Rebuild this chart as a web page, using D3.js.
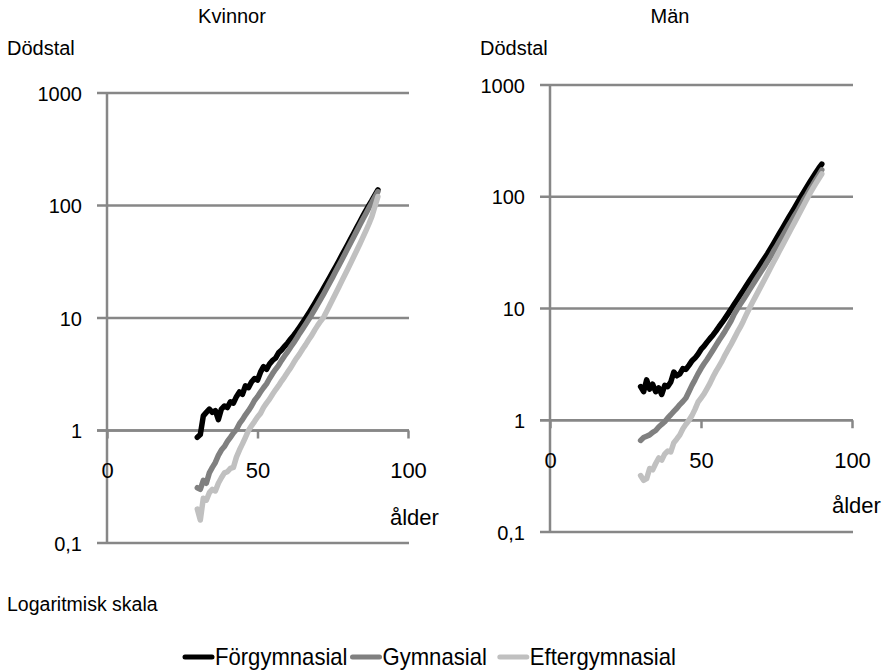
<!DOCTYPE html>
<html>
<head>
<meta charset="utf-8">
<script src="https://cdn.jsdelivr.net/npm/d3@7"></script>
<style>
  body { margin: 0; background: #fff; }
  svg text { font-family: "Liberation Sans", Arial, sans-serif; fill: #000; }
</style>
</head>
<body>
<svg id="chart" width="884" height="672"></svg>
<script>
// ages 30..90, one value per year
var ages = d3.range(30, 91);
var seriesNames = ['Förgymnasial', 'Gymnasial', 'Eftergymnasial'];
var seriesColors = ['#000000', '#808080', '#c0c0c0'];
var yTicks = [0.1, 1, 10, 100, 1000];
var xTicks = [0, 50, 100];

// Kvinnor, dödstal per 1000
var kvinnorFor = [0.87, 0.92, 1.35, 1.45, 1.55, 1.45, 1.5, 1.25, 1.55, 1.65,
  1.6, 1.8, 1.75, 2.0, 2.2, 2.1, 2.5, 2.4, 2.7, 2.9,
  2.8, 3.3, 3.7, 3.5, 3.9, 4.2, 4.4, 4.9, 5.2, 5.6,
  6.0, 6.5, 7.0, 7.6, 8.3, 9.1, 10.0, 11.0, 12.2, 13.5,
  15.0, 16.6, 18.5, 20.6, 23.0, 25.7, 28.7, 32.1, 36.0, 40.3,
  45.2, 50.8, 57.0, 64.0, 71.8, 80.5, 90.0, 100, 111, 124, 138];
var kvinnorGym = [0.31, 0.30, 0.36, 0.34, 0.42, 0.47, 0.52, 0.60, 0.67, 0.72,
  0.80, 0.87, 0.95, 1.02, 1.15, 1.25, 1.38, 1.50, 1.65, 1.85,
  2.0, 2.2, 2.4, 2.6, 2.9, 3.2, 3.5, 3.8, 4.2, 4.6,
  5.0, 5.5, 6.0, 6.6, 7.3, 8.0, 8.8, 9.7, 10.7, 11.9,
  13.2, 14.7, 16.4, 18.4, 20.6, 23.1, 26.0, 29.2, 32.8, 36.9,
  41.6, 46.9, 52.8, 59.5, 67.0, 75.5, 84.5, 95.0, 106, 119, 133];
var kvinnorEft = [0.20, 0.16, 0.25, 0.24, 0.28, 0.30, 0.29, 0.34, 0.38, 0.42,
  0.43, 0.46, 0.47, 0.58, 0.67, 0.76, 0.87, 1.0, 1.1, 1.2,
  1.32, 1.42, 1.6, 1.75, 1.9, 2.1, 2.3, 2.5, 2.75, 3.0,
  3.3, 3.6, 4.0, 4.4, 4.8, 5.3, 5.8, 6.4, 7.0, 7.8,
  8.6, 9.4, 10.2, 11.5, 13.0, 14.7, 16.6, 18.8, 21.3, 24.1,
  27.3, 31.0, 35.2, 40.0, 45.5, 52.0, 59.5, 68.5, 80, 98, 120];

// Män
var manFor = [2.0, 1.8, 2.3, 1.9, 2.1, 1.8, 1.95, 1.7, 2.05, 2.0,
  2.2, 2.7, 2.5, 2.6, 2.9, 2.85, 3.1, 3.4, 3.6, 3.9,
  4.3, 4.6, 5.0, 5.4, 5.8, 6.3, 6.9, 7.5, 8.2, 9.0,
  9.9, 10.9, 12.0, 13.2, 14.5, 16.0, 17.6, 19.3, 21.2, 23.3,
  25.6, 28.1, 30.9, 34.3, 38.1, 42.4, 47.2, 52.5, 58.5, 65.0,
  72, 80, 89, 99, 110, 122, 135, 149, 164, 180, 196];
var manGym = [0.66, 0.70, 0.72, 0.74, 0.78, 0.81, 0.87, 0.92, 0.97, 1.05,
  1.12, 1.20, 1.28, 1.38, 1.47, 1.58, 1.80, 2.05, 2.30, 2.6,
  2.9, 3.2, 3.5, 3.85, 4.25, 4.7, 5.2, 5.7, 6.3, 7.0,
  7.8, 8.9, 9.9, 10.9, 12.0, 13.2, 14.6, 16.1, 17.8, 19.6,
  21.6, 23.8, 26.3, 29.0, 32.5, 36.0, 40.0, 44.5, 49.5, 55.0,
  61, 68, 75, 84, 94, 104, 116, 128, 142, 157, 174];
var manEft = [0.32, 0.29, 0.30, 0.37, 0.36, 0.41, 0.46, 0.44, 0.50, 0.53,
  0.52, 0.63, 0.68, 0.74, 0.84, 0.92, 1.0, 1.1, 1.25, 1.45,
  1.58, 1.72, 1.92, 2.15, 2.45, 2.75, 3.05, 3.4, 3.85, 4.3,
  4.8, 5.4, 6.1, 6.8, 7.7, 8.8, 10.0, 11.3, 12.7, 14.3,
  16.1, 18.1, 20.4, 23.0, 25.9, 29.1, 32.8, 36.9, 41.5, 46.7,
  52.5, 59.0, 66.4, 74.7, 84.0, 94.5, 106, 118, 131, 145, 160];

var svg = d3.select('#chart');
var gridColor = '#878787';

function yFormat(d){
  return d < 1 ? String(d).replace('.', ',') : String(d);
}

// one panel = one small log chart
function drawPanel(title, series, box){
  var x = d3.scaleLinear().domain([0, 100]).range([box.x0, box.x1]);
  var y = d3.scaleLog().domain([0.1, 1000]).range([box.y0, box.y1]);
  var g = svg.append('g');

  g.append('text')
    .attr('x', box.titleX).attr('y', 23)
    .attr('text-anchor', 'middle')
    .style('font-size', '20px')
    .text(title);

  g.append('text')
    .attr('x', box.x0 - box.dodsOffset).attr('y', 55)
    .style('font-size', '20px')
    .text('Dödstal');

  // horizontal gridlines, they stick out left of the axis like ticks
  g.selectAll('line.grid')
    .data(yTicks)
    .enter().append('line')
    .attr('class', 'grid')
    .attr('x1', box.x0 - 10).attr('x2', box.x1 + 1)
    .attr('y1', function(d){ return y(d); })
    .attr('y2', function(d){ return y(d); })
    .attr('stroke', gridColor)
    .attr('stroke-width', 2.5);

  // vertical axis at age 0
  g.append('line')
    .attr('x1', x(0)).attr('x2', x(0))
    .attr('y1', y(1000)).attr('y2', y(0.1))
    .attr('stroke', gridColor)
    .attr('stroke-width', 2.5);

  var yAxis = d3.axisLeft(y)
    .tickValues(yTicks)
    .tickFormat(yFormat)
    .tickSize(0)
    .tickPadding(25);
  var ya = g.append('g')
    .attr('transform', 'translate(' + x(0) + ',0)')
    .call(yAxis);
  ya.select('.domain').remove();
  ya.selectAll('text')
    .style('font-size', '20px')
    .attr('font-family', null)
    .attr('dy', '0.36em');

  // x axis crosses at y = 1
  var xAxis = d3.axisBottom(x)
    .tickValues(xTicks)
    .tickSize(8)
    .tickPadding(24);
  var xa = g.append('g')
    .attr('transform', 'translate(0,' + y(1) + ')')
    .call(xAxis);
  xa.select('.domain')
    .attr('d', 'M' + (box.x0 - 10) + ',0H' + (box.x1 + 1))
    .attr('stroke', gridColor)
    .attr('stroke-width', 2.5);
  xa.selectAll('.tick line')
    .attr('stroke', gridColor)
    .attr('stroke-width', 2.5);
  xa.selectAll('text')
    .style('font-size', '22px')
    .attr('font-family', null);

  g.append('text')
    .attr('x', box.alderX).attr('y', box.alderY)
    .style('font-size', '22px')
    .text('ålder');

  var line = d3.line()
    .x(function(d){ return x(d.age); })
    .y(function(d){ return y(d.v); });

  series.forEach(function(vals, i){
    var pts = ages.map(function(a, j){ return {age: a, v: vals[j]}; });
    g.append('path')
      .datum(pts)
      .attr('d', line)
      .attr('fill', 'none')
      .attr('stroke', seriesColors[i])
      .attr('stroke-width', 5.5)
      .attr('stroke-linecap', 'round')
      .attr('stroke-linejoin', 'round');
  });
}

drawPanel('Kvinnor', [kvinnorFor, kvinnorGym, kvinnorEft],
  {x0: 107, x1: 408, y0: 543, y1: 93, titleX: 232, dodsOffset: 100, alderX: 390, alderY: 525});
drawPanel('Män', [manFor, manGym, manEft],
  {x0: 550, x1: 852, y0: 532, y1: 85, titleX: 670, dodsOffset: 70, alderX: 832, alderY: 513});

svg.append('text')
  .attr('x', 7).attr('y', 611)
  .style('font-size', '19.5px')
  .text('Logaritmisk skala');

// legend along the bottom, text is a bit condensed like in the original
var legendG = svg.append('g').attr('transform', 'translate(183,657)');
var cursor = 0;
var gaps = [3, 11, 0];
seriesNames.forEach(function(name, i){
  legendG.append('line')
    .attr('x1', cursor + 2).attr('x2', cursor + 29)
    .attr('stroke', seriesColors[i])
    .attr('stroke-width', 5)
    .attr('stroke-linecap', 'round');
  var t = legendG.append('text')
    .attr('x', cursor + 32).attr('y', 8)
    .style('font-size', '24px')
    .text(name);
  var w = t.node().getComputedTextLength() * 0.92;
  t.attr('textLength', w).attr('lengthAdjust', 'spacingAndGlyphs');
  cursor += 32 + w + gaps[i];
});
</script>
</body>
</html>
